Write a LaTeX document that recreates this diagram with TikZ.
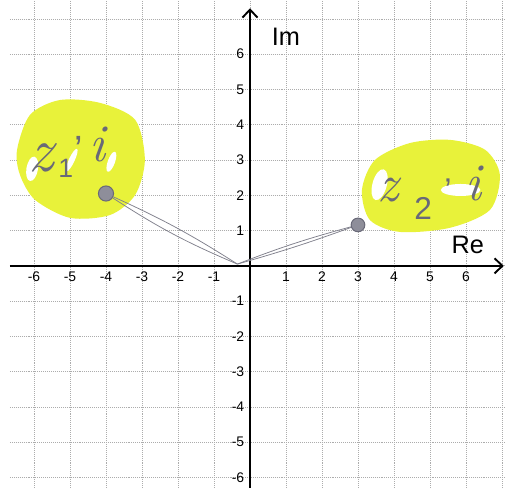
\documentclass[tikz,border=0pt]{standalone}
\usepackage{fontspec}
\setmainfont{Liberation Sans}
\newfontfamily\handfont{Latin Modern Roman}
\usetikzlibrary{arrows.meta,calc}
\definecolor{marker}{RGB}{232,242,58}
\definecolor{pencil}{RGB}{105,105,120}

\begin{document}
\begin{tikzpicture}[x=1cm, y=0.98cm,
        gridline/.style={gray!65, densely dotted, line width=0.55pt},
        axis/.style={line width=1.5pt, -{Straight Barb[length=2.2mm, width=4.2mm]}},
        tick/.style={font=\fontsize{11}{13}\selectfont, inner sep=1pt},
        axlabel/.style={font=\fontsize{20}{24}\selectfont},
        blob/.style={fill=marker, draw=none},
        gap/.style={fill=white, draw=none},
        hand/.style={pencil!85, line width=0.6pt},
        pt/.style={circle, fill=pencil!75, draw=pencil, line width=0.8pt,
            minimum size=4.2mm, inner sep=0pt},
        scribble/.style={pencil, inner sep=0pt, font=\fontsize{#1}{#1}\selectfont},
        letter/.style={pencil, inner sep=0pt,
            font=\handfont\itshape\fontsize{#1}{#1}\selectfont}
    ]
    \useasboundingbox (-6.944,-6.289) rectangle (7.083,7.535);

    % grid
    \foreach \x in {-6,...,7}
        \draw[gridline] (\x,-6.289) -- (\x,7.535);
    \foreach \y in {-6,...,7}
        \draw[gridline] (-6.67,\y) -- (7.083,\y);

    % highlighter marks
    \fill[blob] plot[smooth cycle] coordinates {(-6.47,3.29) (-6.11,4.28) (-5.28,4.70)
        (-4.17,4.62) (-3.19,4.14) (-2.92,3.0) (-3.19,2.01) (-3.89,1.44)
        (-5.0,1.36) (-5.97,1.87) (-6.39,2.58)};
    \fill[blob] plot[smooth cycle] coordinates {(3.11,2.15) (3.47,3.0) (4.44,3.48)
        (5.56,3.57) (6.53,3.29) (6.94,2.58) (6.67,1.59) (5.56,1.08)
        (4.17,0.96) (3.33,1.30)};
    \fill[gap, rotate around={-10:(-6.05,2.75)}] (-6.05,2.75) ellipse (0.16 and 0.35);
    \fill[gap, rotate around={-25:(-4.95,3.0)}] (-4.95,3.0) ellipse (0.08 and 0.35);
    \fill[gap, rotate around={-20:(-3.85,2.95)}] (-3.85,2.95) ellipse (0.1 and 0.3);
    \fill[gap, rotate around={-15:(3.6,2.3)}] (3.6,2.3) ellipse (0.2 and 0.45);
    \fill[gap] (5.85,2.15) ellipse (0.55 and 0.17);

    % axes
    \coordinate (xs) at (-6.67,0);
    \coordinate (xe) at (7.05,0);
    \coordinate (ys) at (0,-6.289);
    \coordinate (ye) at (0,7.3);
    \draw[axis] (xs) -- (xe);
    \draw[axis] (ys) -- (ye);
    \node[axlabel] (re) at (6.05,0.6) {Re};
    \node[axlabel] (im) at (1.0,6.5) {Im};

    \foreach \n in {-6,...,-1,1,2,...,6} {
        \node[tick, anchor=north] (xt\n) at (\n,-0.12) {\n};
        \node[tick, anchor=east] (yt\n) at (-0.12,\n) {\n};
    }

    % z1, z2 and the strokes to the origin
    \coordinate (o) at (-0.35,0.05);
    \node[pt] (z1) at (-4,2.05) {};
    \node[pt, minimum size=3.8mm] (z2) at (3,1.16) {};
    \draw[hand] (z1) to[bend left=4] (o);
    \draw[hand] (z1) to[bend right=5] (o);
    \draw[hand] (o) to[bend left=3] (z2);
    \draw[hand] (o) to[bend right=2] (z2);

    % handwriting
    \node[letter=50] (z1z) at (-5.8,3.07) {z};
    \node[scribble=21] (z1s) at (-5.12,2.76) {1};
    \node[scribble=30] (z1q) at (-4.75,3.3) {'};
    \node[letter=42] (z1i) at (-4.25,3.43) {i};
    \node[letter=42] (z2z) at (3.83,2.15) {z};
    \node[scribble=25] (z2s) at (4.81,1.64) {2};
    \node[scribble=26] (z2q) at (5.5,2.15) {'};
    \node[letter=42] (z2i) at (6.2,2.32) {i};
\end{tikzpicture}
\end{document}
